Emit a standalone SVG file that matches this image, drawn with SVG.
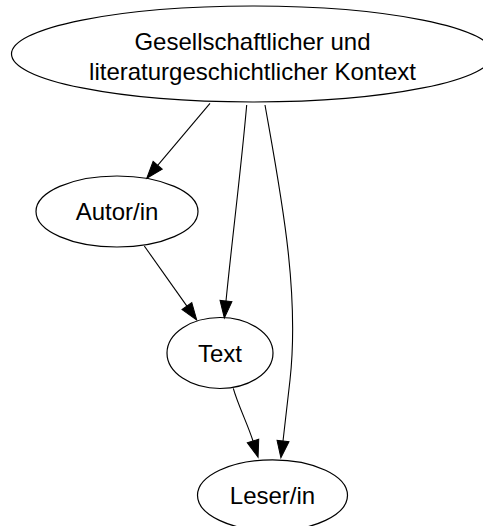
<svg xmlns="http://www.w3.org/2000/svg" width="483" height="526" viewBox="0 0 483 526">
<defs>
<marker id="ah" markerUnits="userSpaceOnUse" markerWidth="17" markerHeight="12" viewBox="0 -6 17 12" refX="0" refY="0" orient="auto" overflow="visible">
<path d="M0,-6 L17,0 L0,6 z" fill="#000" stroke="#000" stroke-width="1"/>
</marker>
<style>
.n ellipse{fill:none;stroke:#000;stroke-width:1.2}
.n text{font-family:"Liberation Sans",Arial,Helvetica,sans-serif;font-size:24px;fill:#000;text-anchor:middle}
.e path{fill:none;stroke:#000;stroke-width:1.1;marker-end:url(#ah)}
</style>
</defs>
<rect width="483" height="526" fill="#fff"/>
<g id="kontext" class="n">
<ellipse cx="252.5" cy="54" rx="241" ry="48"/>
<text x="252.5" y="50">Gesellschaftlicher und</text>
<text x="252.5" y="80">literaturgeschichtlicher Kontext</text>
</g>
<g id="autor" class="n">
<ellipse cx="117" cy="211.5" rx="81" ry="35.5"/>
<text x="117" y="220">Autor/in</text>
</g>
<g id="text" class="n">
<ellipse cx="220" cy="353" rx="53" ry="35.5"/>
<text x="220" y="361.7">Text</text>
</g>
<g id="leser" class="n">
<ellipse cx="272.5" cy="495.3" rx="75" ry="35.5"/>
<text x="272.5" y="504">Leser/in</text>
</g>
<g id="edges" class="e">
<path d="M210,103.3 L157.7,165.3"/>
<path d="M246.7,105 C241,170 232,240 226,301"/>
<path d="M265,105 C280,190 300,290 290,380 C287,405 285,425 283,441"/>
<path d="M144.3,246 L186.9,306.1"/>
<path d="M233.3,388.3 C238,405 248,425 253,441"/>
</g>
</svg>
